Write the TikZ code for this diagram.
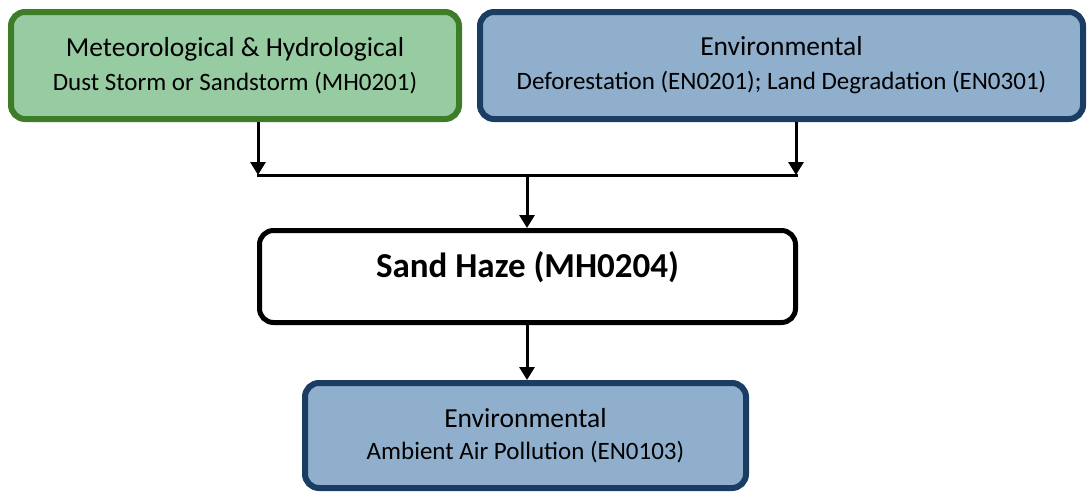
\documentclass[tikz,border=0pt]{standalone}
\usepackage{fontspec}
\setmainfont{Carlito}
\usetikzlibrary{arrows.meta}
\definecolor{gfill}{HTML}{97CBA2}
\definecolor{gline}{HTML}{3E7D27}
\definecolor{bfill}{HTML}{8FAFCC}
\definecolor{bline}{HTML}{1B3D64}
\tikzset{
  box/.style={draw, rounded corners=14pt, inner sep=0pt, align=center, line width=6pt,
    font=\fontsize{27.5}{33}\selectfont},
  greenbox/.style={box, draw=gline, fill=gfill},
  bluebox/.style={box, draw=bline, fill=bfill},
  whitebox/.style={box, draw=black, fill=white, line width=5pt},
  arr/.style={line width=3pt, -{Triangle[width=15pt,length=13pt]}},
  ln/.style={line width=3pt},
}
\newcommand{\sline}[1]{{\fontsize{25}{33}\selectfont #1}}
\begin{document}
\begin{tikzpicture}[x=1pt,y=-1pt]
\useasboundingbox (0,0) rectangle (1092,498);
\node[greenbox, minimum width=448pt, minimum height=107pt] (g) at (235,65.5)
  {Meteorological \& Hydrological\\[1pt]\sline{Dust Storm or Sandstorm (MH0201)}};
\node[bluebox, minimum width=603pt, minimum height=107pt] (e) at (781.5,65.5)
  {Environmental\\[1pt]\sline{Deforestation (EN0201); Land Degradation (EN0301)}};
\node[whitebox, minimum width=536pt, minimum height=92pt] (s) at (527.5,276.5)
  {\raisebox{-1.5pt}{\smash{\fontsize{35}{40}\selectfont\bfseries Sand Haze (MH0204)}}};
\node[bluebox, minimum width=441pt, minimum height=105pt] (a) at (525.5,435.5)
  {Environmental\\[-1pt]\sline{Ambient Air Pollution (EN0103)}};
\coordinate (j1) at (258,175);
\coordinate (j2) at (796,175);
\coordinate (jc) at (527,175);
\draw[arr] (g.south -| j1) -- (j1);
\draw[arr] (e.south -| j2) -- (j2);
\draw[ln] ([xshift=-1.5pt]j1) -- ([xshift=1.5pt]j2);
\draw[arr] (jc) -- (s.north -| jc);
\draw[arr] (s.south -| jc) -- (a.north -| jc);
\end{tikzpicture}
\end{document}
